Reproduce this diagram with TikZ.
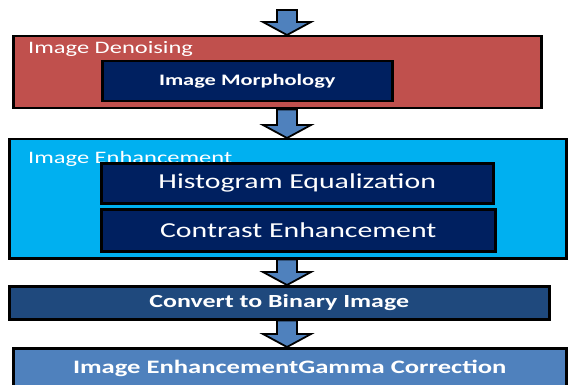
\documentclass[tikz,border=0pt]{standalone}
\usepackage{fontspec}
\setmainfont{Carlito}[FakeStretch=1.4]
\usetikzlibrary{calc}

\definecolor{denoisered}{HTML}{C0504D}
\definecolor{stepnavy}{HTML}{002060}
\definecolor{enhancecyan}{HTML}{00B0F0}
\definecolor{binaryblue}{HTML}{1F497D}
\definecolor{flowblue}{HTML}{4F81BD}

\begin{document}
\begin{tikzpicture}[x=1pt, y=-1pt,
    stage/.style={draw=black, line width=2.5pt, rectangle, inner sep=0pt, anchor=north west},
    stepbox/.style={stage, fill=stepnavy, text=white},
    tag/.style={anchor=base west, inner sep=0pt, text=white, font=\fontsize{17.5}{20}\selectfont},
    blockarrow/.style={draw=black, line width=1.8pt, fill=flowblue, line join=miter,
        to path={let \p1=(\tikztostart), \p2=(\tikztotarget) in
            (\x1-10pt,\y1) -- (\x1+10pt,\y1) -- (\x1+10pt,\y2+13pt) -- (\x1+24pt,\y2+13pt)
            -- (\x1,\y2) -- (\x1-24pt,\y2+13pt) -- (\x1-10pt,\y2+13pt) -- cycle}}]
    \useasboundingbox (0,0) rectangle (570,385);

    % Axis of the flow
    \coordinate (axis) at (287,0);
    \coordinate (entry) at (287,10);

    % Image denoising
    \node[stage, fill=denoisered, minimum width=528, minimum height=72] (denoise) at (12,35) {};
    \node[tag] (denoisetag) at (28,54) {Image Denoising};
    \node[stepbox, minimum width=290, minimum height=40, font=\bfseries\fontsize{16}{19}\selectfont]
        (morph) at (101,60) {Image Morphology};

    % Image enhancement
    \node[stage, fill=enhancecyan, minimum width=557, minimum height=119] (enhance) at (8,138) {};
    \node[tag] (enhancetag) at (28,164) {Image Enhancement};
    \node[stepbox, minimum width=392, minimum height=40, font=\fontsize{21.3}{24}\selectfont]
        (histeq) at (100,162) {Histogram Equalization};
    \node[stepbox, minimum width=394, minimum height=42, font=\fontsize{21.3}{24}\selectfont]
        (contrast) at (100,208) {Contrast Enhancement};

    % Binary image and gamma correction
    \node[stage, fill=binaryblue, text=white, minimum width=540, minimum height=33,
        font=\bfseries\fontsize{18.5}{21}\selectfont] (binary) at (8,285) {Convert to Binary Image};
    \node[stage, fill=flowblue, text=white, minimum width=553, minimum height=40,
        font=\bfseries\fontsize{19}{22}\selectfont] (gamma) at (12,347) {Image EnhancementGamma Correction};

    % Block arrows
    \draw[blockarrow] (entry) to (denoise.north -| axis);
    \draw[blockarrow] (denoise.south -| axis) to (enhance.north -| axis);
    \draw[blockarrow] (enhance.south -| axis) to (binary.north -| axis);
    \draw[blockarrow] (binary.south -| axis) to (gamma.north -| axis);
\end{tikzpicture}
\end{document}
